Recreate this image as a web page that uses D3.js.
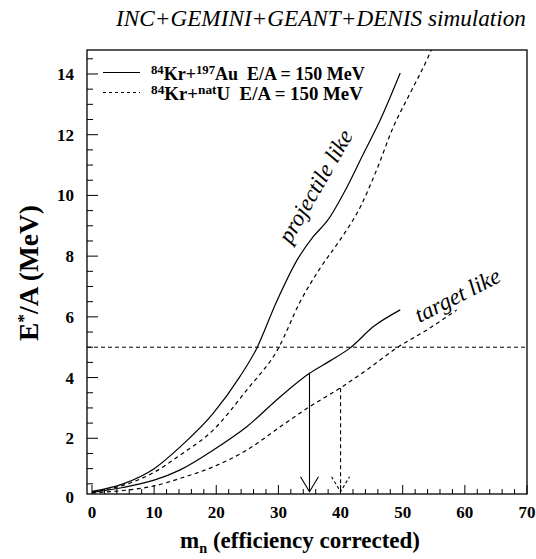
<!DOCTYPE html>
<html><head><meta charset="utf-8">
<script src="https://cdn.jsdelivr.net/npm/d3@7"></script>
<style>body{margin:0;background:#fff}svg{display:block}</style>
</head><body>
<svg id="c" width="536" height="559"></svg>
<script>
// data
const projAuX = [0, 5, 10, 14.2, 19.5, 23.8, 26.5, 29.7, 33.0, 35.6, 38.0, 40.5, 43.7, 46.4, 49.6];
const projAuY = [0.25, 0.5, 1.0, 1.72, 2.82, 4.03, 4.96, 6.5, 7.87, 8.64, 9.2, 10.07, 11.38, 12.49, 14.03];
const projUX = [0, 5, 10, 14.2, 19.5, 24.9, 30.0, 33.5, 36.7, 39.9, 43.2, 45.8, 48.5, 51.2, 53.9, 54.6];
const projUY = [0.22, 0.45, 0.88, 1.45, 2.27, 3.59, 4.97, 6.5, 7.6, 8.53, 9.63, 10.84, 12.26, 13.37, 14.47, 14.79];
const targAuX = [0, 5, 10, 14.2, 19.5, 24.9, 30.3, 35.0, 38.3, 41.5, 45.3, 49.6];
const targAuY = [0.22, 0.38, 0.62, 0.96, 1.61, 2.38, 3.37, 4.14, 4.55, 4.97, 5.68, 6.23];
const targUX = [0, 5, 10, 14.2, 19.5, 24.9, 30.3, 35.0, 39.9, 44.2, 49.0, 53.9, 58.7];
const targUY = [0.2, 0.28, 0.43, 0.68, 1.06, 1.61, 2.38, 3.04, 3.65, 4.25, 4.97, 5.57, 6.23];
const cutY = 5;
const arrowAu = {x: 35, top: 4.12, tip: 0.24};
const arrowU = {x: 40, top: 3.65, tip: 0.24};
const xTicks = [0, 10, 20, 30, 40, 50, 60, 70];
const yTicks = [0, 2, 4, 6, 8, 10, 12, 14];
const titleText = "INC+GEMINI+GEANT+DENIS simulation";
const xLabel = "(efficiency corrected)";
const yLabel = "/A (MeV)";

const FONT = '"Liberation Serif", "Times New Roman", Times, serif';
const svg = d3.select("#c");
const L = 87, R = 527, T = 50, B = 494;
const x = d3.scaleLinear().domain([-0.8, 70]).range([L, R]);
const y = d3.scaleLinear().domain([0.165, 14.79]).range([B, T]);
const txt = sel => sel.append("text").style("font-family", FONT);
function fit(t, w) {
  const k = w / t.node().getComputedTextLength();
  t.style("font-size", (parseFloat(t.style("font-size")) * k) + "px");
  t.selectAll("tspan").each(function () {
    const fs = this.style.fontSize;
    if (fs) this.style.fontSize = (parseFloat(fs) * k) + "px";
  });
}

// frame
svg.append("rect").attr("x", L).attr("y", T).attr("width", R - L).attr("height", B - T)
  .attr("fill", "none").attr("stroke", "#000").attr("stroke-width", 1.3);

// ticks (inward)
d3.range(0, 71, 2).forEach(v => {
  const len = v % 10 === 0 ? 9 : 5;
  svg.append("line").attr("x1", x(v)).attr("x2", x(v)).attr("y1", B).attr("y2", B - len)
    .attr("stroke", "#000").attr("stroke-width", 1);
});
d3.range(0.5, 14.6, 0.5).forEach(v => {
  const len = Math.abs(v % 2) < 1e-9 ? 11 : 6;
  svg.append("line").attr("y1", y(v)).attr("y2", y(v)).attr("x1", L).attr("x2", L + len)
    .attr("stroke", "#000").attr("stroke-width", 1);
});
xTicks.forEach(v => txt(svg).attr("x", x(v)).attr("y", B + 24)
  .attr("text-anchor", "middle").style("font-weight", "bold")
  .style("font-size", "17px").text(v));
yTicks.forEach(v => txt(svg).attr("x", L - 13).attr("y", Math.min(y(v), 497) + 6)
  .attr("text-anchor", "end").style("font-weight", "bold")
  .style("font-size", "17px").text(v));

// title
const ti = txt(svg).attr("x", 321).attr("y", 26).attr("text-anchor", "middle")
  .style("font-style", "italic").style("font-size", "22px").text(titleText);
fit(ti, 410);

// axis labels
const xl = txt(svg).attr("x", 300).attr("y", 548).attr("text-anchor", "middle")
  .style("font-weight", "bold").style("font-size", "21px");
xl.append("tspan").text("m");
xl.append("tspan").style("font-size", "13px").attr("dy", 5).text("n");
xl.append("tspan").attr("dy", -5).text(" " + xLabel);
fit(xl, 240);

const yl = txt(svg).attr("transform", "translate(38,273) rotate(-90)")
  .attr("text-anchor", "middle").style("font-weight", "bold").style("font-size", "22px");
yl.append("tspan").text("E");
yl.append("tspan").style("font-size", "14px").attr("dy", -9).text("*");
yl.append("tspan").attr("dy", 9).text(yLabel);
fit(yl, 136);

// curves
const line = d3.line().x(d => x(d[0])).y(d => y(d[1])).curve(d3.curveMonotoneX);
const zip = (a, b) => a.map((v, i) => [v, b[i]]);
const plot = (xs, ys, dash) => svg.append("path").attr("d", line(zip(xs, ys)))
  .attr("fill", "none").attr("stroke", "#000").attr("stroke-width", 1.2)
  .attr("stroke-dasharray", dash ? "4,3.5" : null);
plot(projAuX, projAuY, false);
plot(projUX, projUY, true);
plot(targAuX, targAuY, false);
plot(targUX, targUY, true);

// horizontal cut line
svg.append("line").attr("x1", L).attr("x2", R).attr("y1", y(cutY)).attr("y2", y(cutY))
  .attr("stroke", "#000").attr("stroke-width", 1).attr("stroke-dasharray", "4,3");

// arrows
function arrow(a, dash) {
  const ax = x(a.x), top = y(a.top), bot = y(a.tip);
  svg.append("line").attr("x1", ax).attr("x2", ax).attr("y1", top).attr("y2", bot)
    .attr("stroke", "#000").attr("stroke-width", 1.1).attr("stroke-dasharray", dash ? "4,3" : null);
  svg.append("path").attr("d", `M${ax - 9},${bot - 15}L${ax},${bot}L${ax + 9},${bot - 15}`)
    .attr("fill", "none").attr("stroke", "#000").attr("stroke-width", 1.1)
    .attr("stroke-dasharray", dash ? "3,2.5" : null);
}
arrow(arrowAu, false);
arrow(arrowU, true);

// curve labels
txt(svg).attr("transform", "translate(322,190) rotate(-60)").attr("text-anchor", "middle")
  .style("font-style", "italic").style("font-size", "23px").text("projectile like");
txt(svg).attr("transform", "translate(461,302) rotate(-27)").attr("text-anchor", "middle")
  .style("font-style", "italic").style("font-size", "23px").text("target like");

// legend
const leg = [
  {dash: false, a: "84", el: "Kr+", b: "197", t: "Au", rest: "\u00a0\u00a0E/A = 150 MeV"},
  {dash: true, a: "84", el: "Kr+", b: "nat", t: "U", rest: "\u00a0\u00a0E/A = 150 MeV"}
];
leg.forEach((d, i) => {
  const yy = 72.5 + i * 20;
  svg.append("line").attr("x1", 103).attr("x2", 140).attr("y1", yy).attr("y2", yy)
    .attr("stroke", "#000").attr("stroke-width", 1.2).attr("stroke-dasharray", d.dash ? "3,3" : null);
  const t = txt(svg).attr("x", 151).attr("y", yy + 7)
    .style("font-weight", "bold").style("font-size", "17px");
  t.append("tspan").style("font-size", "12px").attr("dy", -6).text(d.a);
  t.append("tspan").attr("dy", 6).text(d.el);
  t.append("tspan").style("font-size", "12px").attr("dy", -6).text(d.b);
  t.append("tspan").attr("dy", 6).text(d.t);
  t.append("tspan").text(d.rest);
  fit(t, 214 - i * 2);
});
</script>
</body></html>
